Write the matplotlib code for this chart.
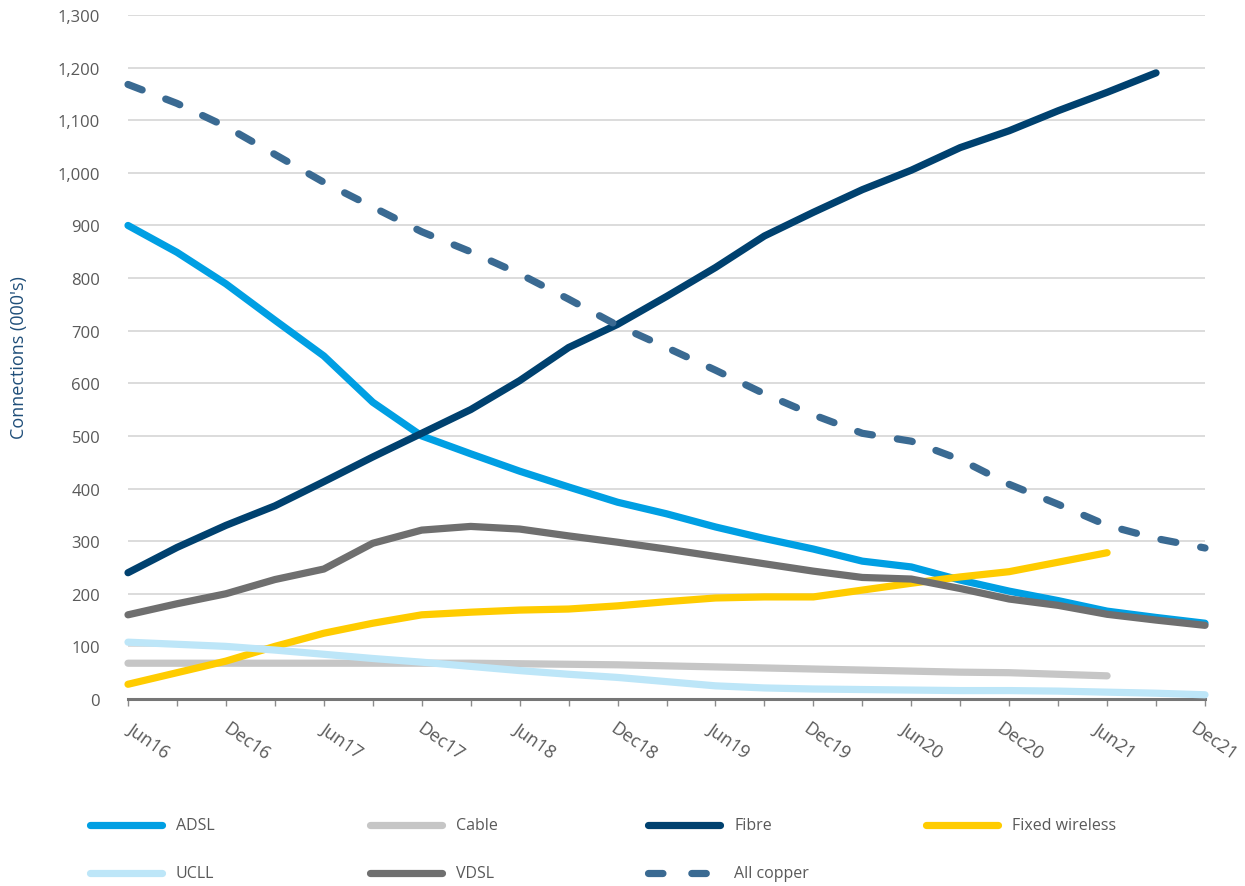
import matplotlib.pyplot as plt
from matplotlib.lines import Line2D
from matplotlib.ticker import FuncFormatter, MultipleLocator
from matplotlib.transforms import ScaledTranslation

# Quarterly connections (000's), Jun16 .. Dec21
quarters = ["Jun16", "Sep16", "Dec16", "Mar17", "Jun17", "Sep17", "Dec17", "Mar18",
            "Jun18", "Sep18", "Dec18", "Mar19", "Jun19", "Sep19", "Dec19", "Mar20",
            "Jun20", "Sep20", "Dec20", "Mar21", "Jun21", "Sep21", "Dec21"]

adsl = [900, 849, 789, 720, 652, 564, 500, 466, 433, 403, 374, 352, 327, 305, 285, 262,
        251, 226, 205, 187, 167, 155, 144]
cable = [68, 68, 68, 68, 68, 68, 68, 68, 67, 66, 65, 63, 61, 59, 57, 55,
         53, 51, 50, 47, 44]
fibre = [240, 288, 330, 367, 413, 460, 505, 550, 605, 668, 712, 765, 820, 880, 925, 968,
         1005, 1048, 1080, 1118, 1153, 1190]
fixed_wireless = [28, 50, 72, 100, 125, 144, 160, 165, 169, 171, 177, 185, 192, 194, 194, 207,
                  220, 232, 242, 260, 278]
ucll = [108, 104, 100, 93, 85, 77, 70, 62, 54, 47, 41, 33, 25, 21, 19, 18,
        17, 16, 16, 15, 13, 11, 8]
vdsl = [160, 181, 200, 227, 247, 296, 321, 328, 323, 310, 298, 285, 271, 257, 243, 231,
        228, 210, 190, 178, 161, 150, 140]
all_copper = [1168, 1132, 1088, 1035, 982, 935, 888, 850, 808, 760, 710, 668, 625, 580, 540, 505,
              490, 455, 408, 370, 330, 305, 287]

series = [
    ("ADSL", adsl, "#009FE3", "-"),
    ("Cable", cable, "#C6C6C6", "-"),
    ("Fibre", fibre, "#00416F", "-"),
    ("Fixed wireless", fixed_wireless, "#FFCC00", "-"),
    ("UCLL", ucll, "#BDE6F8", "-"),
    ("VDSL", vdsl, "#6F6F6F", "-"),
    ("All copper", all_copper, "#3A6A92", "--"),
]

LW = 5.2
DASHES = (2.1, 3.5)

fig = plt.figure(figsize=(12.45, 8.87), dpi=100)
ax = fig.add_axes([128 / 1245, 1 - 700 / 887, (1205 - 128) / 1245, (700 - 16) / 887])

for name, vals, color, ls in series:
    x = list(range(len(vals)))
    line, = ax.plot(x, vals, color=color, lw=LW, solid_capstyle="round",
                    solid_joinstyle="round", dash_capstyle="round", clip_on=False,
                    zorder=3)
    if ls == "--":
        line.set_dashes(DASHES)

ax.set_xlim(0, len(quarters) - 1)
ax.set_ylim(0, 1300)
ax.yaxis.set_major_locator(MultipleLocator(100))
ax.yaxis.set_major_formatter(FuncFormatter(lambda v, p: f"{int(v):,}"))
ax.grid(axis="y", color="#D9D9D9", lw=1.3)
ax.set_axisbelow(True)

ax.set_xticks(range(len(quarters)))
ax.set_xticklabels([q if i % 2 == 0 else "" for i, q in enumerate(quarters)])

for s in ["top", "right", "left"]:
    ax.spines[s].set_visible(False)
ax.spines["bottom"].set_color("#767676")
ax.spines["bottom"].set_linewidth(2.2)
ax.spines["bottom"].set_zorder(2)

ax.tick_params(axis="x", length=5, width=1, color="#8C8C8C", pad=9,
               labelsize=13, labelcolor="#595959")
ax.tick_params(axis="y", length=0, pad=20, labelsize=12, labelcolor="#595959")
for lab in ax.get_xticklabels() + ax.get_yticklabels():
    lab.set_family("Open Sans")

# slanted date labels, drifting slightly left across the axis
for i, lab in enumerate(ax.get_xticklabels()):
    lab.set_rotation(-35)
    lab.set_ha("left")
    lab.set_va("top")
    lab.set_rotation_mode("anchor")
    k = i / 2
    dx = (6 - 14 * k / 11) / 100
    lab.set_transform(lab.get_transform() + ScaledTranslation(dx, 0, fig.dpi_scale_trans))

ax.set_ylabel("Connections (000's)", fontsize=13, color="#1F4E79",
              family="Open Sans", labelpad=14)
ax.yaxis.set_label_coords(-100 / 1077, 0.5)

# legend laid out in a 4 x 2 grid below the axes
col_x = [90, 370, 648, 926]
row_y = [826, 874]
for k, (name, vals, color, ls) in enumerate(series):
    r, c = divmod(k, 4)
    x0, y0 = col_x[c], row_y[r]
    h = Line2D([x0 / 1245, (x0 + 72) / 1245], [1 - y0 / 887] * 2, color=color, lw=LW,
               solid_capstyle="round", dash_capstyle="round", transform=fig.transFigure)
    if ls == "--":
        h.set_dashes((2.0, 4.0))
    fig.add_artist(h)
    fig.text((x0 + 86) / 1245, 1 - y0 / 887, name, fontsize=11.5, color="#595959",
             family="Open Sans", va="center", ha="left")

fig.savefig("out.png", dpi=100)
